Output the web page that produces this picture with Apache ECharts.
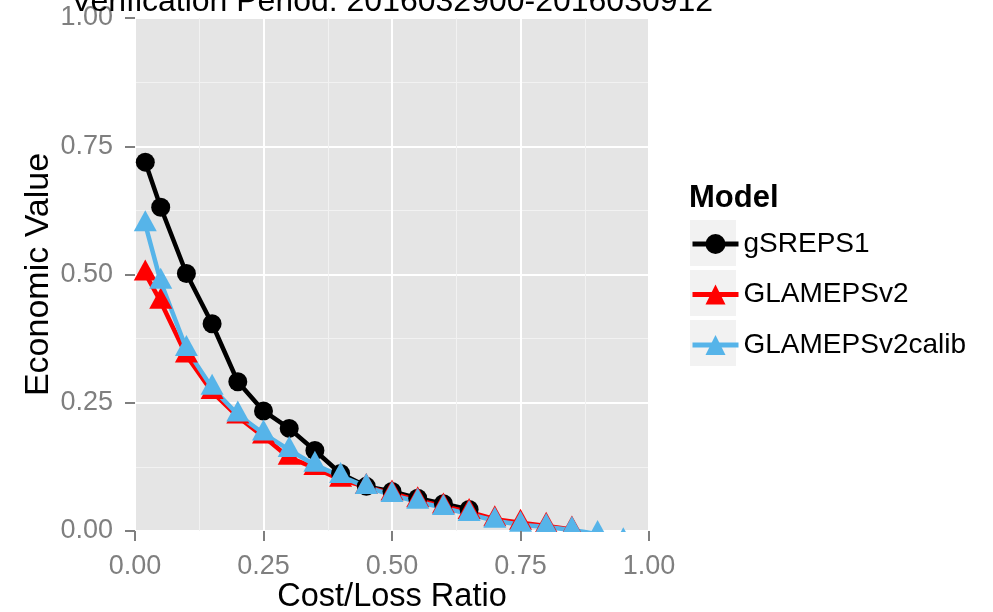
<!DOCTYPE html>
<html>
<head>
<meta charset="utf-8">
<script src="https://cdn.jsdelivr.net/npm/echarts@6/dist/echarts.min.js"></script>
<style>
  html, body { margin: 0; padding: 0; background: #ffffff; }
  #main { width: 993px; height: 612px; }
</style>
</head>
<body>
<div id="main"></div>
<script>
// cost/loss ratios
var ratios = [0.02, 0.05, 0.10, 0.15, 0.20, 0.25, 0.30, 0.35, 0.40, 0.45,
              0.50, 0.55, 0.60, 0.65, 0.70, 0.75, 0.80, 0.85, 0.90, 0.95];
// economic value per model
var gSREPS1 = [0.719, 0.631, 0.502, 0.404, 0.291, 0.234, 0.200, 0.157, 0.112, 0.087,
               0.077, 0.064, 0.053, 0.042];
var GLAMEPSv2 = [0.502, 0.447, 0.342, 0.271, 0.223, 0.184, 0.143, 0.123, 0.100, 0.086,
                 0.073, 0.060, 0.048, 0.037, 0.023, 0.016, 0.010, 0.003];
var GLAMEPSv2calib = [0.598, 0.486, 0.355, 0.279, 0.227, 0.190, 0.158, 0.129, 0.107, 0.086,
                      0.070, 0.057, 0.045, 0.033, 0.020, 0.012, 0.008, 0.002, -0.006, -0.020];
var modelNames = ["gSREPS1", "GLAMEPSv2", "GLAMEPSv2calib"];
var modelColors = ["#000000", "#FF0000", "#56B4E9"];

function pairs(vals) {
  var out = [];
  for (var i = 0; i < vals.length; i++) {
    out.push([ratios[i], vals[i]]);
  }
  return out;
}

var FONT = "Liberation Sans";
var GRID = { left: 135, top: 18, width: 514, height: 513 };
var modelData = [gSREPS1, GLAMEPSv2, GLAMEPSv2calib];
var symbols = ["circle", "triangle", "triangle"];

var series = [];
// lines first (ggplot draws the line layer under all points)
for (var k = 0; k < 3; k++) {
  series.push({
    name: modelNames[k],
    type: "line",
    data: pairs(modelData[k]),
    symbol: symbols[k],
    showSymbol: false,
    clip: false,
    color: modelColors[k],
    lineStyle: { width: 4.5, color: modelColors[k] },
    animation: false,
    z: 2
  });
}
for (var k = 0; k < 3; k++) {
  series.push({
    name: modelNames[k],
    type: "scatter",
    data: pairs(modelData[k]),
    symbol: symbols[k],
    symbolSize: k === 0 ? 19 : [23, 21],
    symbolOffset: k === 0 ? [0, 0] : [0, -3.5],
    clip: false,
    itemStyle: { color: modelColors[k], opacity: 1 },
    animation: false,
    z: 3
  });
}

var myChart = echarts.init(document.getElementById("main"));
myChart.setOption({
  animation: false,
  title: [
    {
      text: "Verification Period: 2016032900-2016030912",
      left: GRID.left + GRID.width / 2,
      textAlign: "center",
      top: -14,
      padding: 0,
      textStyle: { fontFamily: FONT, fontSize: 32, fontWeight: "normal", color: "#000000" }
    },
    {
      text: "Model",
      left: 689,
      top: 183,
      padding: 0,
      textStyle: { fontFamily: FONT, fontSize: 31, fontWeight: "bold", color: "#000000" }
    }
  ],
  legend: {
    data: modelNames,
    orient: "vertical",
    left: 690,
    top: 230,
    padding: 0,
    itemWidth: 46,
    itemHeight: 25,
    itemGap: 22.5,
    selectedMode: false,
    lineStyle: { width: 5 },
    textStyle: { fontFamily: FONT, fontSize: 28, color: "#000000", lineHeight: 25 }
  },
  graphic: [
    // legend key backgrounds
    { type: "rect", z: 1, shape: { x: 690, y: 220, width: 46, height: 46 }, style: { fill: "#F2F2F2" } },
    { type: "rect", z: 1, shape: { x: 690, y: 270, width: 46, height: 46 }, style: { fill: "#F2F2F2" } },
    { type: "rect", z: 1, shape: { x: 690, y: 320, width: 46, height: 46 }, style: { fill: "#F2F2F2" } },
    // panel clipping below y = 0
    { type: "rect", z: 10, shape: { x: 128, y: GRID.top + GRID.height + 1, width: 532, height: 80 }, style: { fill: "#ffffff" } }
  ],
  grid: {
    left: GRID.left,
    top: GRID.top,
    width: GRID.width,
    height: GRID.height,
    outerBoundsMode: "none",
    containLabel: false,
    show: true,
    backgroundColor: "#E5E5E5",
    borderWidth: 0
  },
  xAxis: [
    {
      // grid lines only
      type: "value",
      position: "top",
      min: 0,
      max: 1,
      interval: 0.25,
      axisLine: { show: false },
      axisTick: { show: false },
      axisLabel: { show: false },
      minorTick: { show: false, splitNumber: 2 },
      splitLine: { show: true, lineStyle: { color: "#FFFFFF", width: 2 } },
      minorSplitLine: { show: true, lineStyle: { color: "#F2F2F2", width: 1 } }
    },
    {
      // ticks, labels and title drawn above the clipping mask
      type: "value",
      position: "bottom",
      min: 0,
      max: 1,
      interval: 0.25,
      z: 20,
      name: "Cost/Loss Ratio",
      nameLocation: "middle",
      nameGap: 50,
      nameMoveOverlap: false,
      nameTextStyle: { fontFamily: FONT, fontSize: 32.5, color: "#000000", verticalAlign: "top" },
      axisLine: { show: false },
      axisTick: { show: true, length: 10, lineStyle: { color: "#7F7F7F", width: 2 } },
      axisLabel: {
        margin: 22,
        fontFamily: FONT,
        fontSize: 27,
        color: "#7F7F7F",
        formatter: function (v) { return v.toFixed(2); }
      },
      splitLine: { show: false }
    }
  ],
  yAxis: {
    type: "value",
    min: 0,
    max: 1,
    interval: 0.25,
    name: "Economic Value",
    nameLocation: "middle",
    nameGap: 79,
    nameMoveOverlap: false,
    nameTextStyle: { fontFamily: FONT, fontSize: 34, color: "#000000" },
    axisLine: { show: false },
    axisTick: { show: true, length: 10, lineStyle: { color: "#7F7F7F", width: 2 } },
    axisLabel: {
      margin: 22,
      fontFamily: FONT,
      fontSize: 27,
      color: "#7F7F7F",
      formatter: function (v) { return v.toFixed(2); }
    },
    minorTick: { show: false, splitNumber: 2 },
    splitLine: { show: true, lineStyle: { color: "#FFFFFF", width: 2 } },
    minorSplitLine: { show: true, lineStyle: { color: "#F2F2F2", width: 1 } }
  },
  series: series
});
</script>
</body>
</html>
